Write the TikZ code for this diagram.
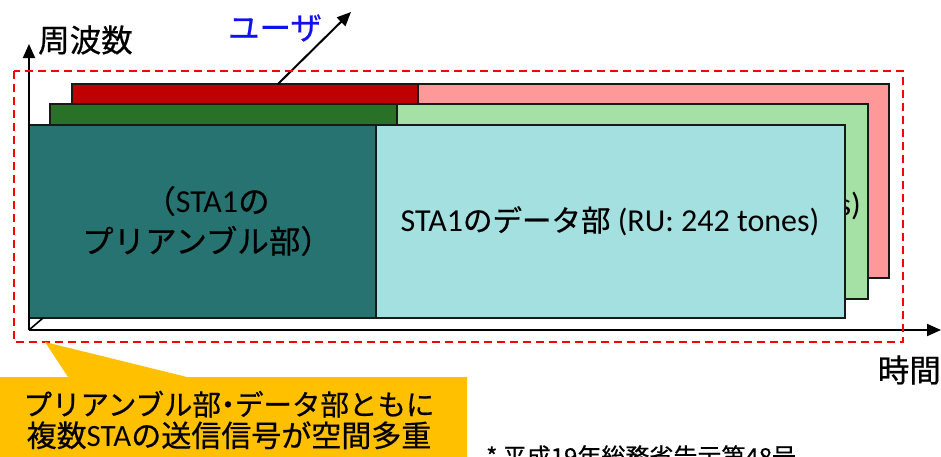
\documentclass[tikz,border=0pt]{standalone}
\usepackage{fontspec}
\setmainfont{Carlito}
\newfontfamily\jp[FakeBold=0.6]{Noto Sans CJK JP}
\usetikzlibrary{arrows.meta}
\definecolor{tealD}{HTML}{267371}
\definecolor{tealL}{HTML}{A5E0E0}
\definecolor{greenD}{HTML}{2A7128}
\definecolor{greenL}{HTML}{A5E0A5}
\definecolor{redD}{HTML}{C00000}
\definecolor{redL}{HTML}{FF9999}
\definecolor{callout}{HTML}{FFC000}
\definecolor{userblue}{HTML}{1010F0}
\newcommand{\jpt}[1]{{\jp\fontsize{29.5}{40}\selectfont #1}}
\newcommand{\jpu}[1]{{\jp\fontsize{31.5}{40}\selectfont #1}}
\tikzset{
  band/.style={draw=black!90, line width=1.6pt},
  axisline/.style={line width=2pt, -{Triangle[length=14pt,width=12pt]}},
  big/.style={font=\fontsize{32}{40}\selectfont, inner sep=0pt},
  jplabel/.style={inner sep=0pt, font=\jp\fontsize{31.5}{36}\selectfont},
}
\begin{document}
\begin{tikzpicture}[x=1pt,y=-1pt]
\useasboundingbox (0,0) rectangle (941,456);
\clip (0,0) rectangle (941,456);
% red (user 3)
\fill[redD] (72,84) rectangle (418,278);
\fill[redL] (418,84) rectangle (889,278);
\draw[band] (72,84) rectangle (889,278);
\draw[band] (418,84) -- (418,104);
% green (user 2)
\fill[greenD] (50,104) rectangle (397,299);
\fill[greenL] (397,104) rectangle (868,299);
\draw[band] (50,104) rectangle (868,299);
\draw[band] (397,104) -- (397,125);
\node[big, anchor=east] (g2txt) at (861,206) {s)};
% teal (STA1)
\fill[tealD] (29,125) rectangle (376,318);
\fill[tealL] (376,125) rectangle (845,318);
\draw[band] (29,125) rectangle (845,318);
\draw[band] (376,125) -- (376,318);
\node[big, align=center] (pre) at (207,221) {\jpu{（}STA1\jpu{の}\\\jpu{プリアンブル部）}};
\node[big] (data) at (610,221) {STA1\jpt{のデータ部} (RU: 242 tones)};
% axes
\coordinate (o) at (29,330);
\coordinate (ytip) at (29,44);
\coordinate (xtip) at (941,330);
\coordinate (dep) at (43,318);
\draw[axisline] (o) -- (ytip);
\draw[axisline] (o) -- (xtip);
\draw[line width=1.6pt] (o) -- (dep);
\node[jplabel, anchor=west] (fq) at (38,40) {周波数};
\node[jplabel, anchor=east] (tm) at (941,370) {時間};
% user arrow
\coordinate (ua) at (278,84);
\coordinate (ub) at (351,12);
\draw[line width=2pt, -{Triangle[length=14pt,width=12pt]}] (ua) -- (ub);
\node[jplabel, text=userblue] (usr) at (275,28) {ユーザ};
% dashed frame
\draw[red, line width=1.6pt, dash pattern=on 8pt off 5pt] (14,71) rectangle (903,342);
% callout
\coordinate (ctip) at (45,342);
\fill[callout] (0,377) -- (68,377) -- (ctip) -- (187,377) -- (467,377) -- (467,460) -- (0,460) -- cycle;
\node[inner sep=0pt, align=center, font=\jp\fontsize{28.5}{31.5}\selectfont] (cap) at (229,420) {プリアンブル部\makebox[14pt]{・}データ部ともに\\{\fontsize{30}{31.5}\selectfont 複数{\rmfamily\fontsize{31}{31.5}\selectfont STA}の送信信号が空間多重}};
% footnote
\node[anchor=north west, inner sep=0pt, font=\jp\fontsize{24}{28}\selectfont] (fn) at (486,445) {* 平成19年総務省告示第48号};
\end{tikzpicture}
\end{document}
